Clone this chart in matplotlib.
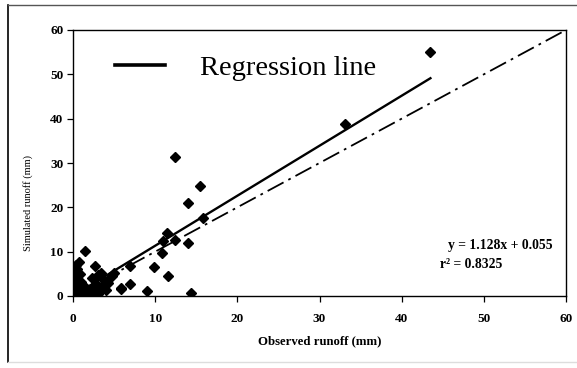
import matplotlib
matplotlib.use("Agg")
import matplotlib.pyplot as plt
from matplotlib.lines import Line2D
import numpy as np

# Observed vs simulated runoff (mm)
observed = [43.5, 33.1, 12.4, 15.5, 14.0, 15.8, 11.5, 10.9, 12.4, 14.0, 10.8, 9.8,
            11.6, 9.0, 14.4, 6.9, 6.9, 5.9, 1.5, 2.7, 5.0, 4.8,
            0.7, 0.4, 0.5, 0.2, 0.1, 0.3, 0.1, 0.2, 0.0, 0.1, 0.0, 0.4, 0.8, 1.2,
            1.6, 2.0, 0.6, 1.0, 1.4, 1.9, 2.3, 2.5, 3.0, 2.3, 3.0, 3.4, 3.8, 4.2,
            2.8, 3.5, 4.0, 1.0, 0.8, 5.8, 3.2, 0.3, 1.3]
simulated = [55.0, 38.7, 31.3, 24.8, 20.9, 17.7, 14.2, 12.3, 12.6, 12.0, 9.6, 6.5,
             4.5, 1.1, 0.6, 6.8, 2.6, 1.6, 10.1, 6.8, 5.3, 4.6,
             7.7, 7.0, 6.2, 5.5, 4.5, 3.8, 3.0, 2.2, 1.5, 0.8, 0.2, 0.3, 0.5, 0.3,
             0.6, 0.2, 1.2, 1.5, 2.0, 1.3, 1.8, 0.6, 0.4, 4.0, 4.7, 5.1, 3.6, 3.0,
             2.8, 2.2, 1.3, 3.2, 5.0, 1.7, 1.0, 2.6, 0.9]

slope, intercept = 1.128, 0.055
reg_x = [0, 43.5]
one_to_one = [0, 60]
x_ticks = [0, 10, 20, 30, 40, 50, 60]
y_ticks = [0, 10, 20, 30, 40, 50, 60]

serif = ["Liberation Serif", "DejaVu Serif"]
plt.rcParams["font.family"] = serif

W, H = 577, 368
fig = plt.figure(figsize=(W/100, H/100), dpi=100)
ax = fig.add_axes([73/W, 1-296/H, (566-73)/W, (296-30)/H])

# outer chart border
fig.add_artist(Line2D([8/W, 8/W], [1-362/H, 1-5/H], transform=fig.transFigure,
                      color="black", lw=1.2))
fig.add_artist(Line2D([8/W, 1.0], [1-5/H, 1-5/H], transform=fig.transFigure,
                      color="#555555", lw=1.0))
fig.add_artist(Line2D([8/W, 1.0], [1-362/H, 1-362/H], transform=fig.transFigure,
                      color="#dddddd", lw=1.0))

ax.plot(one_to_one, one_to_one, color="black", lw=1.3,
        dashes=(10, 3, 1.5, 3), zorder=2)
reg_line, = ax.plot(reg_x, [slope*v + intercept for v in reg_x], color="black",
                    lw=1.7, zorder=3, label="Regression line")
ax.plot(observed, simulated, linestyle="none", marker="D", markersize=5.5,
        color="black", zorder=4)

ax.set_xlim(0, 60)
ax.set_ylim(0, 60)
ax.set_xticks(x_ticks)
ax.set_yticks(y_ticks)
ax.tick_params(direction="out", length=4, width=0.9)
ax.tick_params(axis="x", pad=8)
ax.tick_params(axis="y", pad=3)
for lab in ax.get_xticklabels() + ax.get_yticklabels():
    lab.set_fontweight("bold")
    lab.set_fontsize(9.5)
for sp in ax.spines.values():
    sp.set_linewidth(1.0)

ax.set_xlabel("Observed runoff (mm)", fontsize=9.2, fontweight="bold", labelpad=8)
ax.set_ylabel("Simulated runoff (mm)", fontsize=7.5)
ax.yaxis.set_label_coords(-0.082, 0.35)

leg = ax.legend(handles=[reg_line], loc="center left",
                bbox_to_anchor=(0.085, 0.857), frameon=False, fontsize=20.5,
                handlelength=1.75, handletextpad=1.25, borderaxespad=0, borderpad=0)
leg.get_lines()[0].set_linewidth(2.6)

ax.text(448, H-245, "y = 1.128x + 0.055", transform=None, fontsize=9.8,
        fontweight="bold", va="center", ha="left")
ax.text(440, H-264, "r² = 0.8325", fontsize=9.8, fontweight="bold", va="center",
        ha="left", transform=None)

fig.savefig("out.png", dpi=100)
